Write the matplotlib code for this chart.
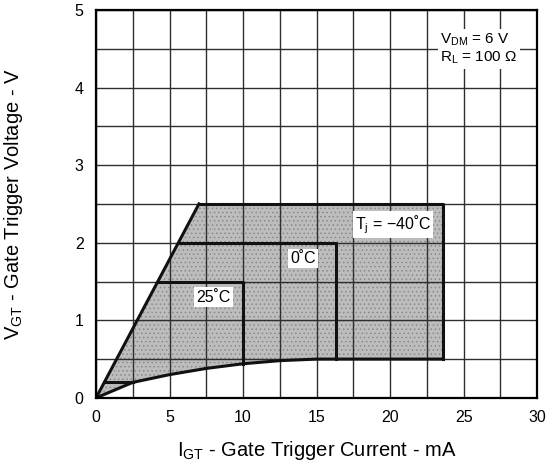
import numpy as np
import matplotlib
matplotlib.use("Agg")
import matplotlib.pyplot as plt
from matplotlib.patches import Polygon

plt.rcParams['font.family'] = ['Liberation Sans', 'DejaVu Sans']
plt.rcParams['mathtext.fontset'] = 'custom'
plt.rcParams['mathtext.rm'] = 'Liberation Sans'
plt.rcParams['hatch.linewidth'] = 0.6

# ── Trigger region data (I_GT in mA, V_GT in V) ───────────────────────────────

# lower boundary, shared by all temperatures
low_i = [0.0, 2.5, 5.0, 7.5, 10.0, 12.5, 15.0, 16.3, 23.6]
low_v = [0.0, 0.20, 0.30, 0.38, 0.44, 0.48, 0.50, 0.50, 0.50]

# upper-left slope line from origin
slope_i = [0.0, 7.0]
slope_v = [0.0, 2.5]

# per-temperature corner (max I_GT, max V_GT)
temps = ["Tj = −40˚C", "0˚C", "25˚C"]
max_i = [23.6, 16.3, 10.0]
max_v = [2.5, 2.0, 1.5]
floor_v = [0.50, 0.50, 0.44]

# short low-current bar
bar_i = [0.56, 2.5]
bar_v = [0.2, 0.2]

# ── Plot ──────────────────────────────────────────────────────────────────────

fig = plt.figure(figsize=(5.52, 4.72), dpi=100)
ax = fig.add_axes([0.174, 0.157, 0.799, 0.822])
ax.set_xlim(0, 30)
ax.set_ylim(0, 5)

# shaded envelope (-40 C region)
x_top = slope_i[1] * max_v[0] / slope_v[1]
env = [(slope_i[0], slope_v[0]), (x_top, max_v[0]), (max_i[0], max_v[0])]
env += list(zip(low_i[::-1], low_v[::-1]))
ax.add_patch(Polygon(env, closed=True, facecolor='#bdbdbd', edgecolor='#8a8a8a',
                     hatch='....', linewidth=0, zorder=1))

# grid on top of the shading
for gx in np.arange(0, 30.01, 2.5):
    ax.axvline(gx, color='#2e2e2e', linewidth=1.0, zorder=2)
for gy in np.arange(0, 5.01, 0.5):
    ax.axhline(gy, color='#2e2e2e', linewidth=1.0, zorder=2)

# region outlines
lw = 2.2
ax.plot(low_i, low_v, color='#111111', linewidth=lw, zorder=3)
ax.plot([0, x_top], [0, max_v[0]], color='#111111', linewidth=lw, zorder=3)
for mi, mv, fv in zip(max_i, max_v, floor_v):
    xs = slope_i[1] * mv / slope_v[1]
    ax.plot([xs, mi, mi], [mv, mv, fv], color='#111111', linewidth=lw, zorder=3)
ax.plot(bar_i, bar_v, color='#111111', linewidth=lw, zorder=3)

box = dict(facecolor='white', edgecolor='none', pad=1.5)
ax.text(8.0, 1.30, temps[2], fontsize=11.5, ha='center', va='center', bbox=box, zorder=4)
ax.text(14.1, 1.80, temps[1], fontsize=11.5, ha='center', va='center', bbox=box, zorder=4)
ax.text(20.2, 2.23, r'T$_{\mathregular{j}}$ = −40˚C', fontsize=11.5,
        ha='center', va='center', bbox=box, zorder=4)

ax.text(23.4, 4.62, r'V$_{\mathregular{DM}}$ = 6 V', fontsize=11, ha='left',
        va='center', bbox=box, zorder=4)
ax.text(23.4, 4.38, r'R$_{\mathregular{L}}$ = 100 Ω', fontsize=11, ha='left',
        va='center', bbox=box, zorder=4)

ax.set_xticks(np.arange(0, 31, 5))
ax.set_yticks(np.arange(0, 6, 1))
ax.tick_params(length=0, labelsize=11.5, pad=9)
for s in ax.spines.values():
    s.set_linewidth(1.6)
    s.set_zorder(5)

ax.set_xlabel(r'I$_{\mathregular{GT}}$ - Gate Trigger Current - mA', fontsize=14.5, labelpad=10)
ax.set_ylabel(r'V$_{\mathregular{GT}}$ - Gate Trigger Voltage - V', fontsize=14.5, labelpad=36)

fig.savefig("out.png", dpi=100)
